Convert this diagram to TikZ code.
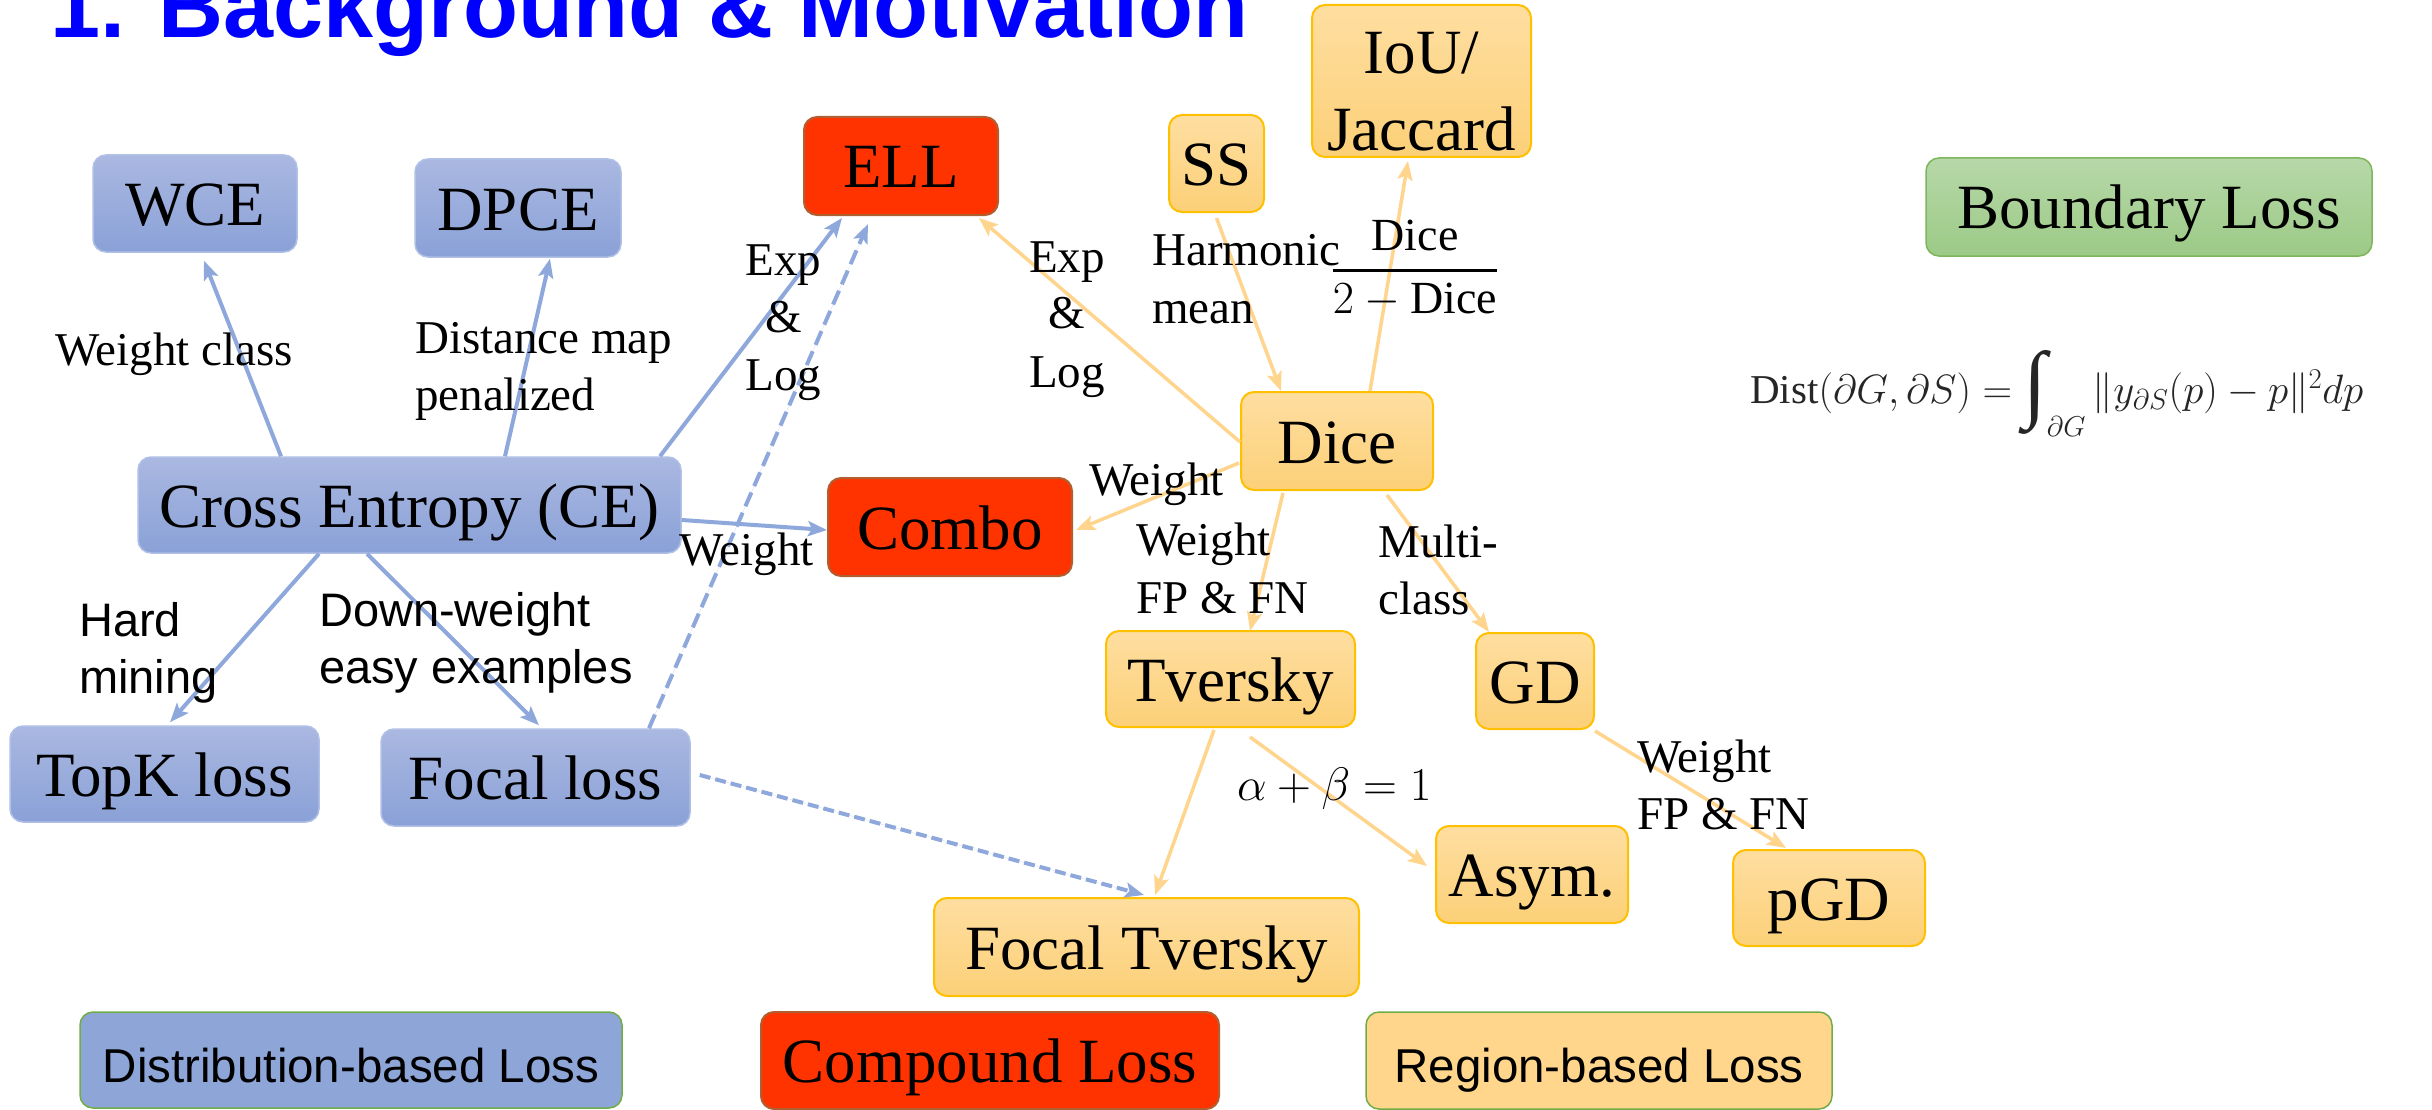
\RequirePackage{fix-cm}
\documentclass[tikz,border=0pt]{standalone}
\usepackage{graphicx}
\usepackage{fontspec}
\setmainfont{Liberation Serif}
\setsansfont{Liberation Sans}
\usetikzlibrary{arrows.meta}

% palette
\definecolor{distT}{RGB}{170,184,225}
\definecolor{distB}{RGB}{138,161,215}
\definecolor{distD}{RGB}{176,192,230}
\definecolor{regT}{RGB}{254,222,160}
\definecolor{regB}{RGB}{252,208,120}
\definecolor{regD}{RGB}{255,192,0}
\definecolor{cmpF}{RGB}{255,51,0}
\definecolor{cmpD}{RGB}{176,96,48}
\definecolor{bndT}{RGB}{183,216,169}
\definecolor{bndB}{RGB}{156,202,134}
\definecolor{bndD}{RGB}{125,182,91}
\definecolor{legBlue}{RGB}{142,165,216}
\definecolor{legOrange}{RGB}{255,214,140}
\definecolor{legEdge}{RGB}{112,173,71}
\definecolor{blueLine}{RGB}{143,168,220}
\definecolor{orangeLine}{RGB}{255,213,142}
\definecolor{titleBlue}{RGB}{0,0,255}

% a tall integral sign taken from the text font
\newcommand{\bigintsign}{\mathop{\vcenter{\hbox{\resizebox*{!}{84pt}{∫}}}}\nolimits}

\tikzset{
  sz/.style 2 args={minimum width=#1pt, minimum height=#2pt},
  box/.style={rounded corners=13pt, inner sep=0pt,
    font=\fontsize{63}{70}\selectfont, text height=44pt, text depth=0pt},
  dist/.style={box, draw=distD, line width=1.5pt, top color=distT, bottom color=distB},
  reg/.style={box, draw=regD, line width=2pt, top color=regT, bottom color=regB},
  cmp/.style={box, draw=cmpD, line width=2pt, fill=cmpF},
  bnd/.style={box, draw=bndD, line width=1.5pt, top color=bndT, bottom color=bndB},
  legend/.style={box, draw=legEdge, line width=1.5pt,
    font=\sffamily\fontsize{47.5}{52}\selectfont},
  lbl/.style={inner sep=0pt, anchor=base west, font=\fontsize{47}{52}\selectfont},
  lblc/.style={lbl, anchor=base},
  slbl/.style={lbl, font=\sffamily\fontsize{47}{52}\selectfont},
  tip/.style={-{Stealth[length=19pt,width=15pt,inset=4pt]}},
  bl/.style={tip, draw=blueLine, fill=blueLine, line width=4pt},
  bldash/.style={bl, dash pattern=on 15pt off 7pt},
  bldash2/.style={bl, dash pattern=on 11pt off 5pt},
  orl/.style={tip, draw=orangeLine, fill=orangeLine, line width=3.5pt},
}

\begin{document}
\begin{tikzpicture}[x=1pt,y=-1pt]
\useasboundingbox (0,0) rectangle (2432,1110);
\fill[white] (0,0) rectangle (2432,1110);

% heading
\node[anchor=base west, inner sep=0pt, text=titleBlue,
  font=\sffamily\bfseries\fontsize{90}{100}\selectfont] (title) at (50,38)
  {1. Background \& Motivation};

% distribution-based losses
\node[dist, sz={204}{97}] (wce) at (195,203.5) {WCE};
\node[dist, sz={206}{98}] (dpce) at (518,208) {DPCE};
\node[dist, sz={543}{96}] (ce) at (409.5,505) {Cross Entropy (CE)};
\node[dist, sz={309}{96}] (topk) at (164.5,774) {TopK loss};
\node[dist, sz={309}{97}] (fl) at (535.5,777.5) {Focal loss};

% compound losses
\node[cmp, sz={194}{98}] (ell) at (901,166) {ELL};
\node[cmp, sz={244}{98}] (combo) at (950,527) {Combo};

% region-based losses
\node[reg, sz={95}{97}] (ss) at (1216.5,163.5) {SS};
\node[reg, sz={219}{152}, align=center, text height=, text depth=,
  font=\fontsize{63}{77}\selectfont] (iou) at (1421.5,81)
  {\rule{0pt}{62pt}IoU/\\Jaccard};
\node[reg, sz={192}{98}] (dice) at (1337,441) {Dice};
\node[reg, sz={249}{96}] (tv) at (1230.5,679) {Tversky};
\node[reg, sz={118}{96}] (gd) at (1535,681) {GD};
\node[reg, sz={192}{97}] (asym) at (1532,874.5) {Asym.};
\node[reg, sz={192}{96}] (pgd) at (1829,898) {pGD};
\node[reg, sz={425}{98}] (ftv) at (1146.5,947) {Focal Tversky};

% boundary loss
\node[bnd, sz={446}{98}] (bnd) at (2149,207) {Boundary Loss};
\node[anchor=base west, inner sep=0pt, text=black!85,
  font=\fontsize{41}{46}\selectfont] (dist) at (1750,403)
  {$\mathrm{Dist}(\partial G,\partial S)=\bigintsign_{\partial G}\|y_{\partial S}(p)-p\|^2dp$};

% key
\node[legend, fill=legBlue, sz={542}{96}] (keydist) at (351,1060) {Distribution-based Loss};
\node[cmp, sz={458}{97}] (keycmp) at (990,1060.5) {Compound Loss};
\node[legend, fill=legOrange, sz={466}{97}] (keyreg) at (1599,1060.5) {Region-based Loss};

% connectors from cross entropy
\draw[bl] ([xshift=-128.5pt]ce.north) -- ([xshift=9pt,yshift=-8pt]wce.south);
\draw[bl] ([xshift=95.5pt]ce.north) -- ([xshift=32pt,yshift=-1pt]dpce.south);
\draw[bl] ([xshift=250.5pt]ce.north) -- ([xshift=-59pt,yshift=-2pt]ell.south);
\draw[bl] ([yshift=-15pt]ce.east) -- ([yshift=-3pt]combo.west);
\draw[bl] ([xshift=-90.5pt]ce.south) -- ([xshift=5.5pt,yshift=3pt]topk.north);
\draw[bl] ([xshift=-42.5pt]ce.south) -- ([xshift=3.5pt,yshift=3pt]fl.north);
\draw[bldash] ([xshift=113.5pt]fl.north) -- ([xshift=-33pt,yshift=-8pt]ell.south);
\draw[bldash2] ([xshift=9pt,yshift=2.5pt]fl.east) -- ([xshift=-2.5pt,yshift=2pt]ftv.north);

% connectors around dice
\draw[orl] ([yshift=-1pt]dice.west) -- ([xshift=78pt,yshift=-2pt]ell.south);
\draw[orl] ([yshift=-5pt]ss.south) -- ([xshift=-56pt]dice.north);
\draw[orl] ([xshift=33pt]dice.north) -- ([xshift=-13.5pt,yshift=-3pt]iou.south);
\draw[orl] ([xshift=-1pt,yshift=-22pt]dice.west) -- ([xshift=3pt,yshift=-3pt]combo.east);
\draw[orl] ([xshift=-54pt,yshift=-2pt]dice.south) -- ([xshift=19.5pt,yshift=-1pt]tv.north);
\draw[orl] ([xshift=50pt,yshift=-4pt]dice.south) -- ([xshift=-46pt]gd.north);
\draw[orl] ([xshift=-16.5pt,yshift=-2pt]tv.south) -- ([xshift=8.5pt,yshift=2pt]ftv.north);
\draw[orl] ([xshift=19.5pt,yshift=-9pt]tv.south) -- ([xshift=-8pt,yshift=8.5pt]asym.west);
\draw[orl] ([yshift=-1pt]gd.south east) -- ([xshift=-43pt,yshift=1pt]pgd.north);

% edge labels
\node[lbl] (wc) at (55,365) {Weight class};
\node[lbl] (dm1) at (415,353) {Distance map};
\node[lbl] (dm2) at (415,410) {penalized};
\node[lblc] (el1) at (783.5,275) {Exp};
\node[lblc] (el2) at (783.5,332) {\&};
\node[lblc] (el3) at (783.5,390) {Log};
\node[lblc] (er1) at (1067,272) {Exp};
\node[lblc] (er2) at (1067,328) {\&};
\node[lblc] (er3) at (1067,387) {Log};
\node[lbl] (hm1) at (1152,265) {Harmonic};
\node[lbl] (hm2) at (1152,323) {mean};
\node[lblc, font=\fontsize{46}{50}\selectfont] (frac) at (1415,282)
  {$\displaystyle{\mathrm{Dice}\above 3pt 2-\mathrm{Dice}}$};
\node[lbl] (wcombo) at (1089,495) {Weight};
\node[lbl] (wce2) at (679,565) {Weight};
\node[lbl] (wf1) at (1136,555) {Weight};
\node[lbl] (wf2) at (1136,613) {FP \& FN};
\node[lbl] (mc1) at (1378,557) {Multi-};
\node[lbl] (mc2) at (1378,614) {class};
\node[lbl] (ab) at (1237,800) {$\alpha+\beta=1$};
\node[lbl] (gw1) at (1637,772) {Weight};
\node[lbl] (gw2) at (1637,829) {FP \& FN};
\node[slbl] (hd1) at (79,636) {Hard};
\node[slbl] (hd2) at (79,693) {mining};
\node[slbl] (dw1) at (319,626) {Down-weight};
\node[slbl] (dw2) at (319,683) {easy examples};
\end{tikzpicture}
\end{document}
